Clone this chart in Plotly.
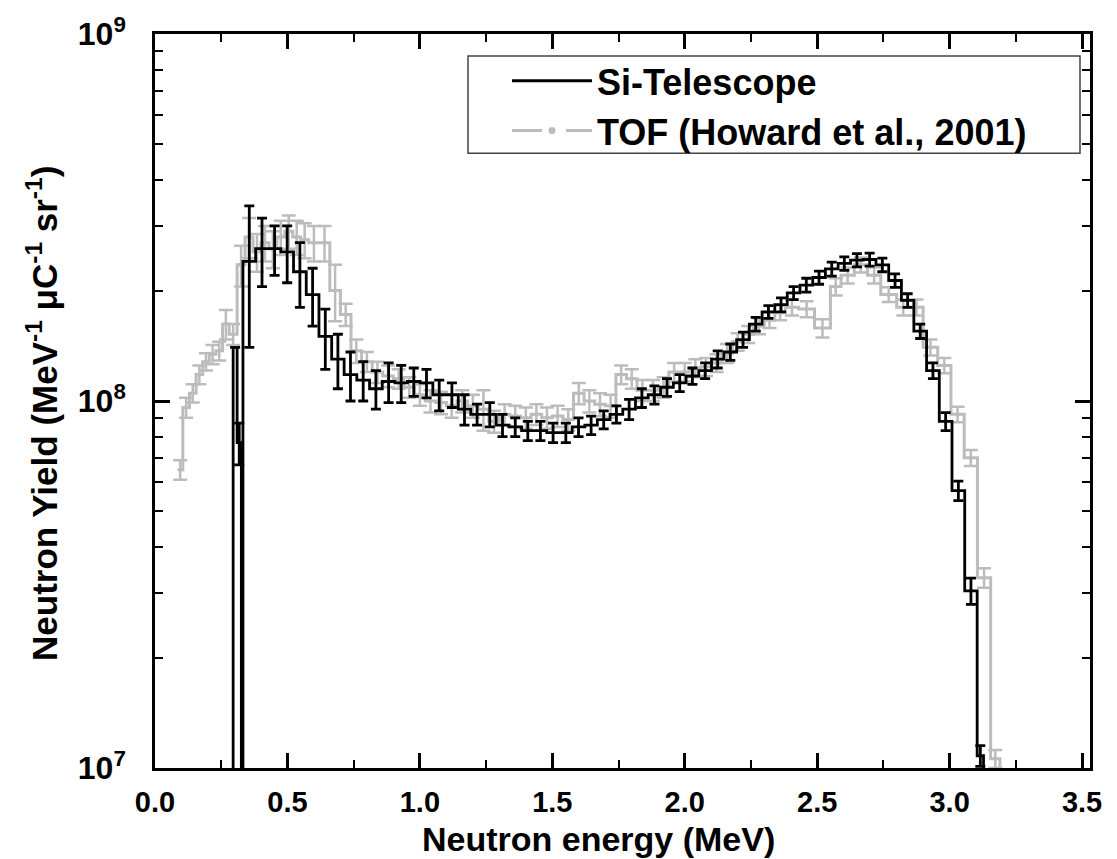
import plotly.graph_objects as go

# ---------------- data ----------------
# Si-Telescope histogram: bin edges (MeV), yield per bin, error per bin
si_edges = [0.295, 0.310, 0.326, 0.332, 0.380, 0.428, 0.475, 0.523, 0.571, 0.619, 0.667,
            0.714, 0.762, 0.810, 0.858, 0.906, 0.953, 1.001, 1.049, 1.097, 1.145, 1.192,
            1.240, 1.288, 1.336, 1.384, 1.431, 1.479, 1.527, 1.575, 1.623, 1.670, 1.718,
            1.766, 1.814, 1.862, 1.909, 1.957, 2.005, 2.053, 2.101, 2.148, 2.196, 2.244,
            2.292, 2.340, 2.387, 2.435, 2.483, 2.531, 2.579, 2.626, 2.674, 2.722, 2.770,
            2.818, 2.865, 2.913, 2.961, 3.009, 3.057, 3.104, 3.128]
si_yield = [1.4e8, 7.7e7, 0,
            2.4e8, 2.6e8, 2.6e8, 2.55e8, 2.25e8, 1.95e8, 1.5e8, 1.3e8, 1.18e8, 1.14e8,
            1.08e8, 1.13e8, 1.12e8, 1.13e8, 1.12e8, 1.04e8, 1.04e8, 9.5e7, 9.2e7, 9.2e7,
            8.6e7, 8.5e7, 8.3e7, 8.3e7, 8.2e7, 8.2e7, 8.5e7, 8.6e7, 8.9e7, 9.2e7, 9.5e7,
            1.02e8, 1.04e8, 1.09e8, 1.12e8, 1.17e8, 1.21e8, 1.3e8, 1.36e8, 1.47e8, 1.62e8,
            1.75e8, 1.83e8, 1.97e8, 2.07e8, 2.17e8, 2.29e8, 2.37e8, 2.42e8, 2.43e8, 2.35e8,
            2.13e8, 1.88e8, 1.55e8, 1.21e8, 8.8e7, 5.7e7, 3.04e7, 1.08e7]
si_err = [0, 1.0e7, 0,
          1.0e8, 5.5e7, 4.0e7, 4.5e7, 4.5e7, 3.5e7, 2.8e7, 2.2e7, 1.8e7, 1.4e7,
          1.3e7, 1.4e7, 1.3e7, 1.0e7, 1.0e7, 1.0e7, 8e6, 9e6, 6e6, 7e6,
          6e6, 5e6, 5e6, 5e6, 5e6, 5e6, 5e6, 5e6, 5e6, 5e6, 6e6,
          6e6, 6e6, 6e6, 6e6, 6e6, 6e6, 7e6, 7e6, 7e6, 7e6,
          7e6, 8e6, 8e6, 9e6, 9e6, 1.0e7, 1.0e7, 1.0e7, 1.0e7, 1.0e7,
          9e6, 8e6, 7e6, 6e6, 5e6, 3.5e6, 2.5e6, 7e5]

# TOF (Howard et al., 2001) histogram
tof_edges = [0.085, 0.105, 0.13, 0.155, 0.18, 0.205, 0.23, 0.255, 0.28, 0.31, 0.34, 0.37,
             0.40, 0.43, 0.46, 0.49, 0.52, 0.55, 0.58, 0.62, 0.66, 0.70, 0.74, 0.78, 0.82,
             0.86, 0.90, 0.94, 0.98, 1.02, 1.06, 1.10, 1.14, 1.18, 1.22, 1.26, 1.30, 1.34,
             1.38, 1.42, 1.46, 1.50, 1.54, 1.58, 1.62, 1.66, 1.70, 1.74, 1.78, 1.82, 1.86,
             1.90, 1.94, 1.98, 2.02, 2.06, 2.10, 2.14, 2.18, 2.22, 2.26, 2.30, 2.34, 2.38,
             2.43, 2.49, 2.55, 2.59, 2.64, 2.69, 2.74, 2.80, 2.85, 2.90, 2.955, 3.005,
             3.055, 3.105, 3.155, 3.19]
tof_yield = [6.5e7, 9.6e7, 1.05e8, 1.18e8, 1.28e8, 1.34e8, 1.37e8, 1.62e8, 1.52e8,
             2.35e8, 2.8e8, 2.55e8, 2.7e8, 2.6e8, 2.8e8, 2.9e8, 2.8e8, 2.75e8, 2.7e8, 2.7e8,
             2.0e8, 1.72e8, 1.37e8, 1.28e8, 1.2e8, 1.17e8, 1.15e8, 1.09e8, 1.04e8, 1.0e8,
             9.9e7, 9.7e7, 1.0e8, 9.7e7, 9.5e7, 8.8e7, 9.2e7, 9.1e7, 9.0e7, 9.2e7, 9.0e7,
             9.1e7, 8.9e7, 1.05e8, 1.0e8, 9.8e7, 9.7e7, 1.18e8, 1.15e8, 1.07e8, 1.07e8,
             1.09e8, 1.2e8, 1.2e8, 1.23e8, 1.24e8, 1.27e8, 1.35e8, 1.45e8, 1.52e8, 1.6e8,
             1.66e8, 1.74e8, 1.8e8, 1.78e8, 1.58e8, 2.05e8, 2.2e8, 2.35e8, 2.2e8, 1.95e8,
             1.8e8, 1.8e8, 1.4e8, 1.25e8, 9.2e7, 7.0e7, 3.3e7, 1.06e7]
tof_err = [4e6, 6e6, 6e6, 7e6, 7e6, 8e6, 8e6, 1.5e7, 1.0e7,
           3.0e7, 3.5e7, 3.0e7, 3.0e7, 3.0e7, 3.0e7, 3.0e7, 3.0e7, 3.0e7, 3.0e7, 3.0e7,
           3.5e7, 1.2e7, 1.0e7, 8e6, 8e6, 8e6, 7e6, 7e6, 7e6, 7e6,
           7e6, 7e6, 7e6, 7e6, 1.2e7, 6e6, 6e6, 6e6, 6e6, 6e6, 6e6,
           6e6, 6e6, 7e6, 7e6, 7e6, 7e6, 7e6, 7e6, 7e6, 7e6,
           7e6, 7e6, 7e6, 7e6, 7e6, 7e6, 8e6, 8e6, 8e6, 8e6,
           8e6, 8e6, 9e6, 9e6, 9e6, 1.1e7, 1.1e7, 1.1e7, 1.1e7, 9e6,
           9e6, 9e6, 7e6, 6e6, 4.5e6, 3.5e6, 2e6, 6e5]

x_ticks = [0.0, 0.5, 1.0, 1.5, 2.0, 2.5, 3.0, 3.5]
y_ticks = [1e7, 1e8, 1e9]
y_ticktext = ["10<sup>7</sup>", "10<sup>8</sup>", "10<sup>9</sup>"]

# ---------------- styling ----------------
BLACK = "#000000"
GRAY = "#bcbcbc"
FLOOR = 1e4  # below the axis range: draws lines down to the bottom
FONT = "Liberation Sans, Arial, sans-serif"

# plot area in pixels: x 155..1090, y 30..768
PL, PR, PT, PB = 155, 1090, 30, 768


def px_to_paper_x(px):
    return (px - PL) / (PR - PL)


def px_to_paper_y(py):
    return (PB - py) / (PB - PT)


def step_xy(edges, vals, start_floor, end_floor):
    xs, ys = [], []
    if start_floor:
        xs.append(edges[0]); ys.append(FLOOR)
    for e, v in zip(edges[:-1], vals):
        xs.append(e); ys.append(v if v > 0 else FLOOR)
    xs.append(edges[-1]); ys.append(vals[-1] if vals[-1] > 0 else FLOOR)
    if end_floor:
        xs.append(edges[-1]); ys.append(FLOOR)
    return xs, ys


def centers(edges, vals, errs):
    cx, cy, ce = [], [], []
    for i, v in enumerate(vals):
        if v > 0:
            cx.append(0.5 * (edges[i] + edges[i + 1])); cy.append(v); ce.append(errs[i])
    return cx, cy, ce


fig = go.Figure()

# TOF (gray)
tx, ty = step_xy(tof_edges, tof_yield, False, True)
fig.add_trace(go.Scatter(x=tx, y=ty, mode="lines", line=dict(color=GRAY, width=3, shape="hv"),
                         showlegend=False, hoverinfo="skip"))
cx, cy, ce = centers(tof_edges, tof_yield, tof_err)
fig.add_trace(go.Scatter(x=cx, y=cy, mode="markers", marker=dict(size=4, color=GRAY),
                         error_y=dict(type="data", array=ce, color=GRAY, thickness=2.5, width=7),
                         showlegend=False))

# Si-Telescope (black)
sx, sy = step_xy(si_edges, si_yield, True, True)
fig.add_trace(go.Scatter(x=sx, y=sy, mode="lines", line=dict(color=BLACK, width=2.8, shape="hv"),
                         showlegend=False, hoverinfo="skip"))
cx, cy, ce = centers(si_edges, si_yield, si_err)
fig.add_trace(go.Scatter(x=cx, y=cy, mode="markers", marker=dict(size=1, color=BLACK),
                         error_y=dict(type="data", array=ce, color=BLACK, thickness=2.8, width=5),
                         showlegend=False))

# legend entries
fig.add_trace(go.Scatter(x=[None], y=[None], mode="lines", name="Si-Telescope",
                         line=dict(color=BLACK, width=3)))
fig.add_trace(go.Scatter(x=[None], y=[None], mode="lines+markers", name="TOF (Howard et al., 2001)",
                         line=dict(color=GRAY, width=3, dash="30px,24px"),
                         marker=dict(size=7, color=GRAY)))

axis_common = dict(
    showline=True, linewidth=2.5, linecolor=BLACK, mirror="allticks",
    ticks="inside", tickwidth=2.5, tickcolor=BLACK, ticklen=15,
    showgrid=False, zeroline=False,
)

fig.update_layout(
    width=1117, height=859,
    margin=dict(l=PL, r=1117 - PR, t=PT, b=859 - PB),
    paper_bgcolor="white", plot_bgcolor="white",
    xaxis=dict(
        **axis_common,
        range=[0, 3.53], tickvals=x_ticks, tickformat=".1f",
        tickfont=dict(family=FONT, size=29, color=BLACK, weight="bold"),
        minor=dict(dtick=0.25, tick0=0, ticks="inside", ticklen=8, tickwidth=2, tickcolor=BLACK),
        ticklabelstandoff=6,
    ),
    yaxis=dict(
        **axis_common,
        type="log", range=[7, 9], tickvals=y_ticks, ticktext=y_ticktext,
        tickfont=dict(family=FONT, size=32, color=BLACK, weight="bold"),
        minor=dict(tickvals=[m * 10 ** d for d in (7, 8) for m in range(2, 10)],
                   ticks="inside", ticklen=8, tickwidth=2, tickcolor=BLACK),
        ticklabelstandoff=20,
    ),
    legend=dict(
        x=px_to_paper_x(507), y=px_to_paper_y(47), xanchor="left", yanchor="top",
        bgcolor="rgba(0,0,0,0)", borderwidth=0,
        font=dict(family=FONT, size=36, color=BLACK, weight="bold"),
        itemwidth=80, tracegroupgap=0,
    ),
    shapes=[dict(type="rect", xref="paper", yref="paper",
                 x0=px_to_paper_x(468), x1=px_to_paper_x(1080),
                 y0=px_to_paper_y(150), y1=px_to_paper_y(52),
                 line=dict(color="#444444", width=1.5), fillcolor="rgba(0,0,0,0)",
                 layer="above")],
    annotations=[
        dict(text="Neutron energy (MeV)", xref="paper", yref="paper",
             x=px_to_paper_x(598), y=px_to_paper_y(839), xanchor="center", yanchor="middle",
             showarrow=False, font=dict(family=FONT, size=34, color=BLACK, weight="bold")),
        dict(text="Neutron Yield (MeV<sup>-1</sup> \u03bcC<sup>-1</sup> sr<sup>-1</sup>)",
             xref="paper", yref="paper", textangle=-90,
             x=px_to_paper_x(42), y=px_to_paper_y(412), xanchor="center", yanchor="middle",
             showarrow=False, font=dict(family=FONT, size=35, color=BLACK, weight="bold")),
    ],
)

fig.write_html("out.html")
